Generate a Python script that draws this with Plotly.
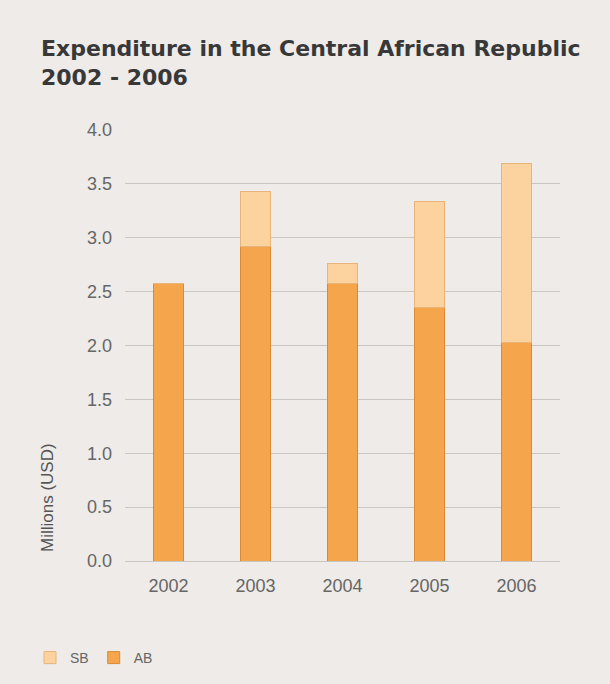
import plotly.graph_objects as go

years = ["2002", "2003", "2004", "2005", "2006"]
ab = [2.58, 2.92, 2.58, 2.35, 2.03]
sb = [0.0, 0.51, 0.18, 0.99, 1.66]
y_ticks = [0.0, 0.5, 1.0, 1.5, 2.0, 2.5, 3.0, 3.5, 4.0]

bg = "#EEEBE8"
fig = go.Figure()
fig.add_trace(go.Bar(x=years, y=ab, name="AB", marker=dict(color="#F5A64C", line=dict(color="#D98A35", width=1))))
fig.add_trace(go.Bar(x=years, y=sb, name="SB", marker=dict(color="#FCD29E", line=dict(color="#E8B47A", width=1))))

PL, PT, PW, PH = 125, 130, 435, 431

fig.update_layout(
    barmode="stack",
    bargap=0.65,
    width=610, height=684,
    paper_bgcolor=bg, plot_bgcolor=bg,
    margin=dict(l=PL, r=610 - PL - PW, t=PT, b=684 - PT - PH),
    xaxis=dict(
        tickfont=dict(family="Liberation Sans", size=18, color="#666666"),
        showgrid=False, showline=False, ticks="",
        ticklabelstandoff=12,
    ),
    yaxis=dict(
        range=[0, 4.0], tickvals=y_ticks, tickformat=".1f",
        tickfont=dict(family="Liberation Sans", size=18, color="#666666"),
        showgrid=True, gridcolor="#C9C5C1", gridwidth=1,
        zeroline=True, zerolinecolor="#C9C5C1", zerolinewidth=1,
        ticklabelstandoff=12,
    ),
    legend=dict(
        orientation="h", traceorder="reversed",
        xref="container", yref="container",
        x=30/610, xanchor="left", y=1-658/684, yanchor="middle",
        font=dict(family="Liberation Sans", size=14, color="#666666"),
        itemwidth=30,
    ),
    annotations=[
        dict(
            text="Expenditure in the Central African Republic<br>2002 - 2006",
            xref="paper", yref="paper",
            x=(39 - PL)/PW, y=(PT + PH - 34)/PH, xanchor="left", yanchor="top",
            align="left", showarrow=False,
            font=dict(family="DejaVu Sans", size=22, color="#383838", weight="bold"),
        ),
        dict(
            text="Millions (USD)", xref="paper", yref="paper",
            x=-78/PW, y=(PT + PH - 498 + PT - PT)/PH - 0, xanchor="center", yanchor="middle",
            textangle=-90, showarrow=False,
            font=dict(family="Liberation Sans", size=17, color="#555555"),
        ),
    ],
)

fig.write_html("out.html")
